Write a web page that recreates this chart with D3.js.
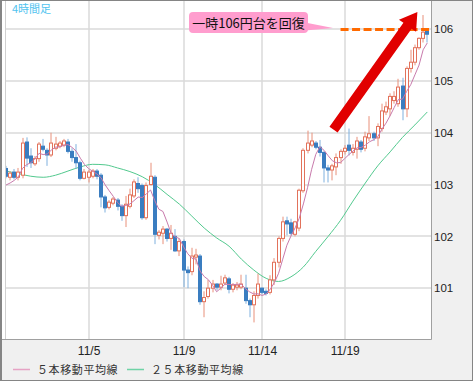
<!DOCTYPE html>
<html>
<head>
<meta charset="utf-8">
<script src="https://cdn.jsdelivr.net/npm/d3@7"></script>
<style>
body{margin:0;background:#fff}
svg{display:block}
text{font-family:"Liberation Sans",Arial,sans-serif}
.jp{font-family:"Noto Sans CJK JP",sans-serif}
</style>
</head>
<body>
<div id="chart"></div>
<script>
var opens=[103.31,103.14,103.24,103.14,103.18,103.82,103.55,103.40,103.50,103.74,
103.66,103.57,103.70,103.74,103.76,103.82,103.64,103.52,103.42,103.12,
103.14,103.16,103.26,103.18,102.76,102.56,102.64,102.70,102.58,102.40,
102.58,102.78,103.02,102.98,102.36,103.00,103.14,102.02,102.06,102.14,
101.96,102.00,101.72,101.90,101.35,101.32,101.60,101.62,100.74,100.84,
101.00,101.08,101.02,101.10,101.18,100.98,101.02,101.02,101.00,100.76,
100.68,100.86,101.00,100.94,100.92,101.16,101.50,101.96,102.30,102.26,
102.04,102.16,102.88,103.66,103.76,103.80,103.72,103.62,103.32,103.28,
103.34,103.52,103.64,103.76,103.62,103.68,103.82,103.70,103.90,103.98,
103.90,104.08,104.40,104.46,104.62,104.56,104.90,104.46,105.24,105.36,
105.64,105.82,105.98];
var highs=[103.36,103.26,103.30,103.32,103.90,103.91,103.70,103.55,103.82,103.88,
103.70,104.00,103.92,103.84,103.88,103.88,103.70,103.78,103.46,103.30,
103.28,103.30,103.30,103.22,102.80,102.70,102.76,102.74,102.62,102.78,
102.92,103.10,103.14,103.02,103.04,103.42,103.18,102.12,102.20,102.16,
102.22,102.14,101.96,101.94,101.42,101.78,101.76,101.66,100.94,101.16,
101.16,101.10,101.24,101.26,101.22,101.10,101.12,101.26,101.26,100.80,
100.94,101.28,101.02,100.98,101.25,101.58,102.00,102.38,102.38,102.34,
102.30,102.92,103.70,104.04,104.00,103.84,103.86,103.64,103.38,103.40,
103.60,103.68,103.76,104.08,103.78,103.92,103.86,104.02,104.32,104.02,
104.18,104.56,104.60,104.76,104.80,105.04,105.06,105.28,105.60,105.70,
105.84,106.27,106.00];
var lows=[103.12,103.08,103.10,103.08,103.12,103.34,103.32,103.36,103.44,103.64,
103.36,103.53,103.66,103.70,103.72,103.60,103.44,103.30,103.08,103.10,
103.04,103.12,103.10,102.56,102.46,102.52,102.60,102.50,102.30,102.18,
102.54,102.74,102.84,102.32,102.32,102.98,101.85,101.94,101.85,101.90,
101.74,101.70,101.62,101.02,101.00,101.25,101.46,100.68,100.44,100.80,
100.92,100.96,100.96,101.06,100.90,100.92,100.96,100.98,100.70,100.44,
100.34,100.80,100.88,100.86,100.88,101.06,101.40,101.90,102.02,102.02,
102.00,102.10,102.84,103.60,103.72,103.68,103.54,103.04,103.04,103.08,
103.18,103.40,103.58,103.56,103.56,103.50,103.62,103.64,103.84,103.84,
103.74,104.02,104.34,104.32,104.56,104.50,104.24,104.30,105.16,105.30,
105.60,105.74,105.74];
var closes=[103.16,103.22,103.14,103.24,103.80,103.51,103.42,103.50,103.78,103.68,
103.57,103.80,103.78,103.80,103.84,103.64,103.52,103.42,103.12,103.24,
103.24,103.26,103.16,102.76,102.55,102.66,102.72,102.58,102.40,102.62,
102.80,103.05,102.92,102.36,102.98,103.16,102.04,102.08,102.14,101.96,
102.06,101.72,101.90,101.35,101.30,101.62,101.64,100.74,100.82,101.00,
101.08,101.02,101.08,101.20,100.98,101.06,101.06,101.08,100.76,100.68,
100.86,101.08,100.92,100.90,101.16,101.50,101.96,102.28,102.24,102.06,
102.28,102.89,103.66,103.80,103.84,103.72,103.62,103.32,103.28,103.36,
103.52,103.64,103.70,103.66,103.70,103.84,103.68,103.92,103.98,103.90,
104.12,104.42,104.50,104.70,104.70,104.88,104.46,105.24,105.36,105.64,
105.82,105.94,105.90];
// 5MA of the first bars (earlier closes are off the chart)
var ma5Lead=[102.99,103.03,103.08,103.15];
// 25MA: [bar, value]
var ma25=[[0,103.26],[3,103.21],[6,103.16],[9,103.14],[12,103.18],[15,103.26],[18,103.34],
[21,103.39],[24,103.38],[27,103.32],[30,103.25],[33,103.15],[36,103.00],[39,102.81],
[42,102.62],[45,102.39],[48,102.16],[51,101.97],[54,101.81],[57,101.56],[60,101.35],
[63,101.19],[66,101.13],[69,101.22],[72,101.41],[75,101.71],[78,102.00],[81,102.31],
[84,102.68],[87,103.03],[90,103.36],[93,103.63],[96,103.91],[99,104.15],[102,104.40]];
var tickIdx=[20,43,62,82];
var tickLabels=["11/5","11/9","11/14","11/19"];
var yTicks=[101,102,103,104,105,106];
var legendLabels=["５本移動平均線","２５本移動平均線"];
var titleText="4時間足";
var noteText="一時106円台を回復";
var noteLevel=106;

var W=473,H=381;
var plot={l:6,t:0,r:431,b:339};
var upCol="#e2725b",downCol="#3a7dc0",ma5Col="#c87aac",ma25Col="#52c98e";

var svg=d3.select("#chart").append("svg").attr("width",W).attr("height",H);

var x=d3.scaleLinear().domain([0,102]).range([6,427.3]);
var y=d3.scaleLinear().domain([100.02,106.56]).range([plot.b,plot.t]);

svg.append("rect").attr("x",0).attr("y",0).attr("width",W).attr("height",H).attr("fill","#f0f0f0");
svg.append("rect").attr("x",0).attr("y",0).attr("width",plot.r).attr("height",plot.b).attr("fill","#fff");

svg.append("defs").append("clipPath").attr("id","clip")
    .append("rect").attr("x",plot.l).attr("y",plot.t).attr("width",plot.r-plot.l).attr("height",plot.b-plot.t);

var grid=svg.append("g").attr("stroke","#dadada").attr("stroke-width",1.5);
grid.selectAll("line.h").data(yTicks).enter().append("line").attr("class","h")
    .attr("x1",plot.l).attr("x2",plot.r)
    .attr("y1",function(d){return Math.round(y(d))}).attr("y2",function(d){return Math.round(y(d))});
grid.selectAll("line.v").data(tickIdx).enter().append("line").attr("class","v")
    .attr("x1",function(d){return Math.round(x(d))}).attr("x2",function(d){return Math.round(x(d))})
    .attr("y1",plot.t).attr("y2",plot.b);

var bars=opens.map(function(o,i){return {i:i,o:o,h:highs[i],l:lows[i],c:closes[i]}});

var ma5=bars.map(function(d,i){
    if(i<4) return {i:i,v:ma5Lead[i]};
    return {i:i,v:d3.mean(closes.slice(i-4,i+1))};
});

var g=svg.append("g").attr("clip-path","url(#clip)");

g.append("path").datum(ma25)
    .attr("fill","none").attr("stroke",ma25Col).attr("stroke-width",1)
    .attr("d",d3.line().x(function(d){return x(d[0])}).y(function(d){return y(d[1])}).curve(d3.curveMonotoneX));

var candle=g.selectAll("g.c").data(bars).enter().append("g").attr("class","c");
candle.append("line")
    .attr("x1",function(d){return Math.round(x(d.i))}).attr("x2",function(d){return Math.round(x(d.i))})
    .attr("y1",function(d){return y(d.h)}).attr("y2",function(d){return y(d.l)})
    .attr("stroke",function(d){return d.c>=d.o?"#e8907a":"#7fb0de"}).attr("stroke-width",1);
candle.append("rect")
    .attr("x",function(d){return Math.round(x(d.i))-1.5})
    .attr("width",3)
    .attr("y",function(d){return y(Math.max(d.o,d.c))})
    .attr("height",function(d){return Math.max(1,Math.abs(y(d.o)-y(d.c)))})
    .attr("fill",function(d){return d.c>=d.o?"#fff":downCol})
    .attr("stroke",function(d){return d.c>=d.o?upCol:downCol})
    .attr("stroke-width",1);

g.append("path").datum(ma5)
    .attr("fill","none").attr("stroke",ma5Col).attr("stroke-width",1)
    .attr("d",d3.line().x(function(d){return x(d.i)}).y(function(d){return y(d.v)}));

// frame
svg.append("line").attr("x1",plot.l-0.5).attr("x2",plot.l-0.5).attr("y1",0).attr("y2",plot.b).attr("stroke","#d0d0d0");
svg.append("polyline").attr("points",(plot.r+0.5)+",0 "+(plot.r+0.5)+","+(plot.b+0.5)+" 0,"+(plot.b+0.5))
    .attr("fill","none").attr("stroke","#a0a0a0");

// axes
var yAxis=svg.append("g").attr("transform","translate("+plot.r+",0)")
    .call(d3.axisRight(y).tickValues(yTicks).tickSize(0).tickPadding(3).tickFormat(d3.format("d")));
var xAxis=svg.append("g").attr("transform","translate(0,"+plot.b+")")
    .call(d3.axisBottom(x).tickValues(tickIdx).tickSize(0).tickPadding(7)
        .tickFormat(function(d,i){return tickLabels[i]}));
[yAxis,xAxis].forEach(function(a){
    a.select(".domain").remove();
    a.selectAll("text").attr("fill","#222").style("font-size","12px").style("font-family","\"Liberation Sans\",Arial,sans-serif");
});
yAxis.selectAll("text").style("font-size","11.5px");

// title
svg.append("text").attr("class","jp").attr("x",12).attr("y",13)
    .attr("fill","#4fc3ef").style("font-size","11px").text(titleText);

// dashed level
svg.append("line").attr("x1",x(81)).attr("x2",plot.r).attr("y1",y(noteLevel)+0.5).attr("y2",y(noteLevel)+0.5)
    .attr("stroke","#ff6a00").attr("stroke-width",3).attr("stroke-dasharray","8,3.5");

// arrow
function arrowPoints(x0,y0,x1,y1,hw,headL,headW) {
    var dx=x1-x0,dy=y1-y0,len=Math.sqrt(dx*dx+dy*dy);
    var ux=dx/len,uy=dy/len,nx=-uy,ny=ux;
    var bx=x1-ux*headL,by=y1-uy*headL;
    var pts=[[x0+nx*hw,y0+ny*hw],[bx+nx*hw,by+ny*hw],[bx+nx*headW,by+ny*headW],[x1,y1],
        [bx-nx*headW,by-ny*headW],[bx-nx*hw,by-ny*hw],[x0-nx*hw,y0-ny*hw]];
    return pts.map(function(p){return p[0]+","+p[1]}).join(" ");
}
svg.append("polygon")
    .attr("points",arrowPoints(x(79.3),y(104.06),x(99.6),y(106.33),5,17,10.5))
    .attr("fill","#e10000");

// callout
var note=svg.append("g");
note.append("polygon").attr("points","305,22.5 333,28 305,30.5").attr("fill","#ff9dce");
note.append("rect").attr("x",189).attr("y",12).attr("width",119).attr("height",21).attr("rx",4)
    .attr("fill","#ff9dce");
note.append("text").attr("class","jp").attr("x",248.5).attr("y",27.5).attr("text-anchor","middle")
    .attr("fill","#111").style("font-size","13px").text(noteText);

// legend
var legend=svg.append("g").attr("transform","translate(0,369)");
var lx=[13,127];
var lcol=["#e6a3c4","#6fd3a6"];
legendLabels.forEach(function(t,i){
    legend.append("line").attr("x1",lx[i]).attr("x2",lx[i]+17).attr("y1",0.5).attr("y2",0.5)
        .attr("stroke",lcol[i]).attr("stroke-width",1.5);
    legend.append("text").attr("class","jp").attr("x",lx[i]+24).attr("y",4.5)
        .attr("fill","#333").style("font-size","11px").style("letter-spacing","0.6px").text(t);
});

// outer border
svg.append("rect").attr("x",0.5).attr("y",0.5).attr("width",W-1).attr("height",H-1)
    .attr("fill","none").attr("stroke","#858585");
svg.append("line").attr("x1",1.5).attr("x2",1.5).attr("y1",0).attr("y2",H).attr("stroke","#858585");
</script>
</body>
</html>
